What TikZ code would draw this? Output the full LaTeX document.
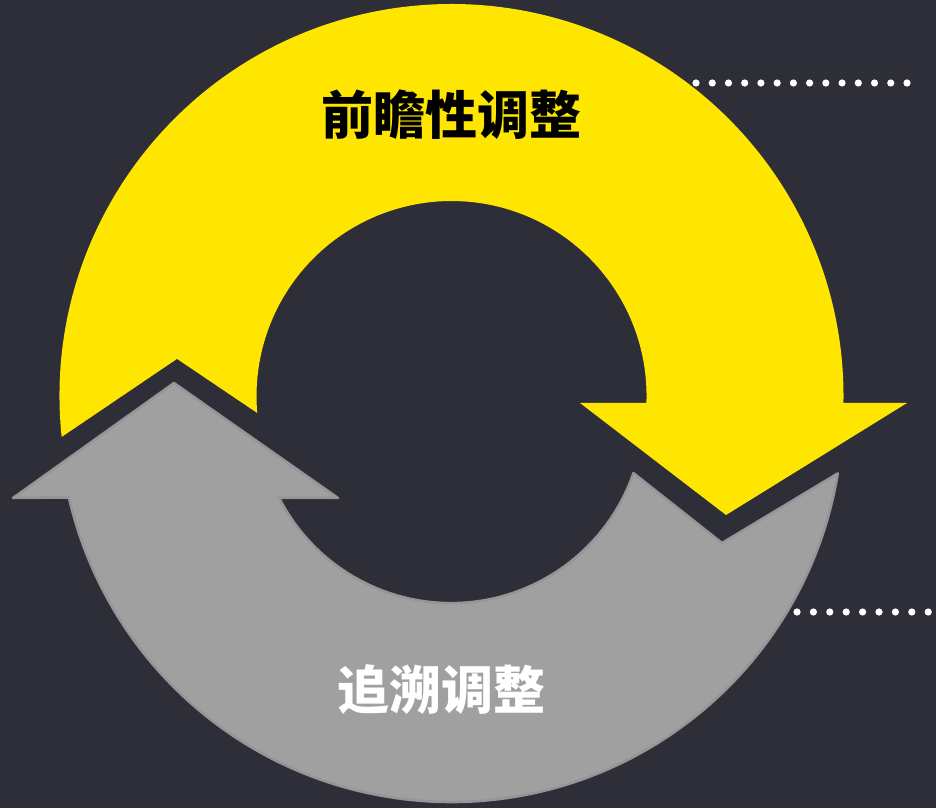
\documentclass[tikz,border=0pt]{standalone}
\usepackage{fontspec}
\newfontfamily\cjk{Noto Sans CJK SC}
\usepackage{tikz}
\definecolor{bgdark}{HTML}{2E2E38}
\definecolor{ahead}{HTML}{FFE600}
\definecolor{aback}{HTML}{A0A0A0}
\definecolor{abackline}{HTML}{959595}

\begin{document}
\begin{tikzpicture}[x=1pt,y=1pt,
  title/.style={font=\cjk\bfseries\fontsize{52}{60}\selectfont,inner sep=0pt},
  dot/.style={fill=white,draw=none}]
  \fill[bgdark] (0,0) rectangle (936,808);
  \useasboundingbox (0,0) rectangle (936,808);
  % yellow arrow, clockwise over the top
  \begin{scope}[shift={(451.5,412)}]
    \fill[ahead] (186:392) arc[start angle=186,end angle=-1,radius=392]
      -- (455.5,-7) -- (274.5,-119) -- (128.5,-7) -- (194.9,-7)
      arc[start angle=-2.05,end angle=185,radius=195]
      -- (172.3:277) -- cycle;
  \end{scope}
  % grey arrow, clockwise under the bottom
  \begin{scope}[shift={(451,398)}]
    \filldraw[fill=aback,draw=abackline,line width=2.5pt,line join=round]
      (-9.3:392) arc[start angle=-9.3,end angle=-167.1,radius=392]
      -- (-438,-88) -- (-277,27) -- (-113,-88) -- (-171.8,-88)
      arc[start angle=-152.9,end angle=-19.05,radius=193]
      -- (271,-133) -- cycle;
  \end{scope}
  \node[title,text=black] (fwd) at (451,693) {前瞻性调整};
  \node[title,text=white] (back) at (441,118) {追溯调整};
  % dotted leaders
  \foreach \i in {0,...,13}
    \fill[white] ({696+16.23*\i},725) circle (3.6);
  \foreach \i in {0,...,8}
    \fill[white] ({797+16.4*\i},196) circle (3.6);
\end{tikzpicture}
\end{document}
